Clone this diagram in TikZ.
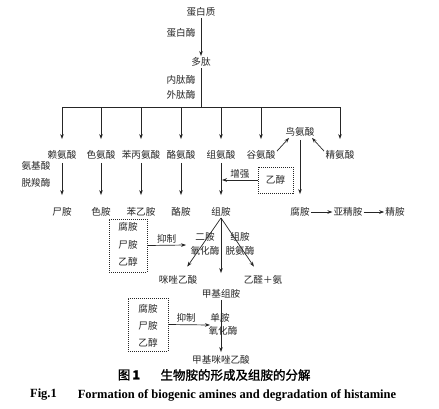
\documentclass[tikz,border=0pt]{standalone}
\usepackage{fontspec}
\setmainfont{Liberation Serif}
\newfontfamily\cjk{Noto Sans CJK SC}
\newfontfamily\cjkb[FakeBold=1.5]{Noto Sans CJK SC}
\usetikzlibrary{arrows.meta}
\definecolor{ink}{rgb}{0.15,0.15,0.15}
\begin{document}
\begin{tikzpicture}[x=1pt,y=-1pt,
  lbl/.style={font=\cjk\fontsize{9.6}{11}\selectfont, inner sep=1pt, text height=8pt, text depth=1.5pt, text=ink},
  arr/.style={draw=ink, line width=0.7pt, -{Stealth[length=5pt,width=3.6pt]}},
  ln/.style={draw=ink, line width=0.7pt},
  dbox/.style={draw=ink, dash pattern=on 1pt off 1pt, line width=0.6pt, inner sep=0pt},
  captxt/.style={inner sep=0pt, text=black}]
\useasboundingbox (0,0) rectangle (439,408);
% top
\node[lbl] (prot) at (201,12) {蛋白质};
\node[lbl] (pep) at (201,62) {多肽};
\node[lbl] (prot_enz) at (181,33) {蛋白酶};
\node[lbl] (endo) at (181,80) {内肽酶};
\node[lbl] (exo) at (181,95) {外肽酶};
\coordinate (bar) at (201,107);
\draw[arr] (prot.south) -- (pep.north);
\draw[ln] (pep.south) -- (bar);
% amino acids
\node[lbl] (lys) at (62,155) {赖氨酸};
\node[lbl] (trp) at (101,155) {色氨酸};
\node[lbl] (phe) at (141,155) {苯丙氨酸};
\node[lbl] (tyr) at (181,155) {酪氨酸};
\node[lbl] (his) at (221,155) {组氨酸};
\node[lbl] (glu) at (261,155) {谷氨酸};
\node[lbl] (arg) at (340,155) {精氨酸};
\node[lbl] (orn) at (300,132) {鸟氨酸};
\draw[ln] (lys|-bar) -- (arg|-bar);
\foreach \n in {lys,trp,phe,tyr,his,glu,arg}
  \draw[arr, shorten >=10pt] (\n|-bar) -- (\n.north);
\draw[arr] ([xshift=16pt,yshift=-2pt]glu.north) -- ([xshift=-11pt]orn.south);
\draw[arr] ([xshift=-16pt,yshift=-2pt]arg.north) -- ([xshift=12pt]orn.south);
% amines
\node[lbl] (cad) at (62,212) {尸胺};
\node[lbl] (trya) at (101,212) {色胺};
\node[lbl] (pea) at (141,212) {苯乙胺};
\node[lbl] (tyra) at (181,212) {酪胺};
\node[lbl] (hista) at (221,212) {组胺};
\node[lbl] (put) at (300,212) {腐胺};
\node[lbl] (spd) at (348,212) {亚精胺};
\node[lbl] (spm) at (395,212) {精胺};
\node[lbl] (aadc1) at (36,166) {氨基酸};
\node[lbl] (aadc2) at (36,183) {脱羧酶};
\draw[arr, shorten <=2pt, shorten >=11pt] (lys.south) -- (cad.north);
\draw[arr, shorten <=2pt, shorten >=11pt] (trp.south) -- (trya.north);
\draw[arr, shorten <=2pt, shorten >=11pt] (phe.south) -- (pea.north);
\draw[arr, shorten <=2pt, shorten >=11pt] (tyr.south) -- (tyra.north);
\draw[arr, shorten <=2pt, shorten >=11pt] (his.south) -- (hista.north);
\draw[arr, shorten <=2pt, shorten >=12pt] (orn.south) -- (put.north);
\draw[arr] (put) -- (spd);
\draw[arr] (spd) -- (spm);
% ethanol enhance
\node[dbox, minimum width=35pt, minimum height=26pt] (eth) at (275.5,180) {};
\node[lbl] (ethtxt) at (eth.center) {乙醇};
\coordinate (hisline) at (222,180);
\draw[arr] (eth.west) -- (hisline) node[midway, above, lbl] {增强};
% inhibition box 1
\node[dbox, minimum width=38pt, minimum height=53pt] (b1) at (128,245.5) {};
\node[lbl] (b1a) at (128,227) {腐胺};
\node[lbl] (b1b) at (128,245) {尸胺};
\node[lbl] (b1c) at (128,262) {乙醇};
\coordinate (inh1) at (186,245);
\draw[arr] (b1.east) -- (inh1) node[midway, above, lbl] {抑制};
% histamine degradation
\node[lbl] (iaa) at (178,280) {咪唑乙酸};
\node[lbl] (ald) at (263,280) {乙醛＋氨};
\node[lbl] (mh) at (221,294) {甲基组胺};
\node[lbl] (mia) at (221,360) {甲基咪唑乙酸};
\draw[arr, shorten >=9pt] (hista.south) -- (iaa);
\draw[arr, shorten >=15pt] (hista.south) -- (mh.north);
\draw[arr, shorten >=9pt] (hista.south) -- (ald);
\node[lbl] (dao1) at (205,237) {二胺};
\node[lbl] (dao2) at (205,251) {氧化酶};
\node[lbl] (hdh1) at (240,237) {组胺};
\node[lbl] (hdh2) at (240,251) {脱氨酶};
% inhibition box 2
\node[dbox, minimum width=40pt, minimum height=53pt] (b2) at (148,324.5) {};
\node[lbl] (b2a) at (148,309) {腐胺};
\node[lbl] (b2b) at (148,326) {尸胺};
\node[lbl] (b2c) at (148,343) {乙醇};
\coordinate (inh2) at (210,325);
\draw[arr] (b2.east) -- (inh2) node[pos=0.43, above, lbl] {抑制};
\draw[arr, shorten >=2pt] (mh.south) -- (mia.north);
\node[lbl] (mao1) at (220,318) {单胺};
\node[lbl] (mao2) at (223,331) {氧化酶};
% caption
\node[captxt, font=\fontsize{12.5}{14}\selectfont] (fig) at (129,375) {\cjkb 图\,\textbf{1}};
\node[captxt, font=\cjkb\fontsize{12.5}{14}\selectfont] (title) at (235.5,375) {生物胺的形成及组胺的分解};
\node[captxt, font=\bfseries\fontsize{12.5}{14}\selectfont] (figen) at (43.5,395) {Fig.1};
\node[captxt, font=\bfseries\fontsize{12.5}{14}\selectfont] (titleen) at (237,395) {Formation of biogenic amines and degradation of histamine};
\end{tikzpicture}
\end{document}
